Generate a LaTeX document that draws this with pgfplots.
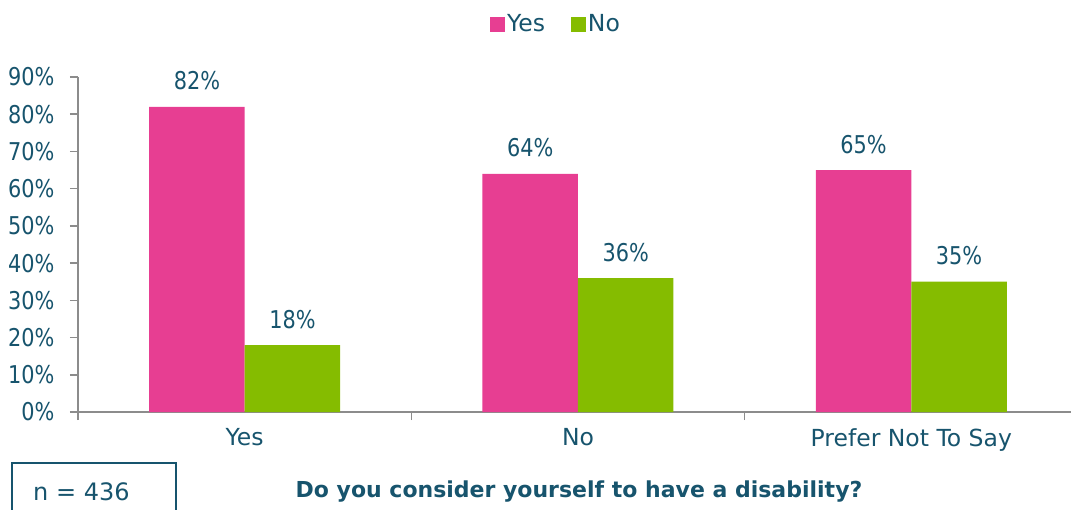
\documentclass[border=0pt]{standalone}
\usepackage{fontspec}
\setmainfont{DejaVu Sans}
\newfontfamily\numfont{DejaVu Sans}[FakeStretch=0.85]
\usepackage{pgfplots}
\pgfplotsset{compat=1.18}
\definecolor{teal}{RGB}{23,84,109}
\definecolor{pinkbar}{RGB}{231,62,146}
\definecolor{greenbar}{RGB}{133,188,0}
\definecolor{axgray}{RGB}{140,140,140}
\begin{document}
\begin{tikzpicture}[x=1pt,y=1pt]
\useasboundingbox (0,0) rectangle (1071,509);
\begin{axis}[
  at={(78pt,97pt)}, anchor=south west,
  scale only axis, width=1000pt, height=335pt,
  /pgf/number format/assume math mode=true,
  ybar=0pt, bar width=95.5pt,
  xmin=-0.5, xmax=2.5, ymin=0, ymax=90,
  axis x line*=bottom, axis y line*=left,
  axis line style={draw=axgray, line width=1.5pt},
  every tick/.style={draw=axgray, line width=1.5pt},
  tick align=outside, major tick length=8pt,
  ytick={0,10,...,90},
  yticklabel={\numfont\pgfmathprintnumber{\tick}\%},
  yticklabel style={font=\fontsize{24.5}{24.5}\selectfont, text=teal, xshift=-12pt},
  xtick={-0.5,0.5,1.5,2.5}, xticklabels={},
  extra x ticks={0,1,2},
  extra x tick labels={Yes,No,Prefer Not To Say},
  extra x tick style={major tick length=0pt, xticklabel style={font=\fontsize{23.5}{23.5}\selectfont, text=teal, yshift=-13pt}},
  nodes near coords={\numfont\pgfmathprintnumber{\pgfplotspointmeta}\%},
  nodes near coords style={font=\fontsize{24.5}{24.5}\selectfont, text=teal, yshift=13pt},
  legend style={at={(0.478,1.158)}, anchor=center, draw=none, fill=none,
    legend columns=-1, font=\fontsize{23.5}{23.5}\selectfont, text=teal,
    /tikz/every even column/.append style={column sep=24pt}},
  legend image code/.code={\fill[#1] (0pt,-7.5pt) rectangle (15pt,7.5pt);},
  clip=false,
]
\addplot[fill=pinkbar, draw=none] coordinates {(0,82) (1,64) (2,65)};
\addplot[fill=greenbar, draw=none] coordinates {(0,18) (1,36) (2,35)};
\legend{Yes,No}
\end{axis}
\draw[teal, line width=1.5pt] (12,-10) -- (12,46) -- (176,46) -- (176,-10);
\node[anchor=base west, inner sep=0pt, text=teal, font=\fontsize{24}{24}\selectfont] at (33,9) {n = 436};
\node[anchor=base, inner sep=0pt, text=teal, font=\bfseries\fontsize{22}{22}\selectfont] at (579,12) {Do you consider yourself to have a disability?};
\end{tikzpicture}
\end{document}
